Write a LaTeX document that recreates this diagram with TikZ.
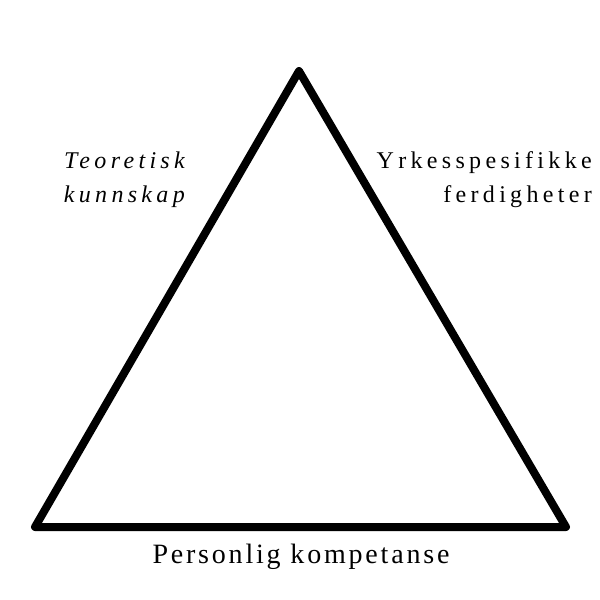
\documentclass[tikz,border=0pt]{standalone}
\usepackage{fontspec}
\setmainfont{Liberation Serif}
\newfontfamily\sidelabelfont{Liberation Serif}[LetterSpace=18]
\newfontfamily\baselabelfont{Liberation Serif}[LetterSpace=10]
\usetikzlibrary{positioning}

\begin{document}
\begin{tikzpicture}[x=1pt, y=-1pt,
        side/.style = {line width=8pt, line join=round, line cap=round},
        sidelbl/.style = {inner sep=0pt, align=right, anchor=base east, font=\sidelabelfont\fontsize{24}{33.5}\selectfont},
        baselbl/.style = {inner sep=0pt, anchor=base, font=\baselabelfont\fontsize{28}{34}\selectfont}]
    \useasboundingbox (0,0) rectangle (600,600);
    \coordinate (top) at (299,71);
    \coordinate (bl) at (35,527);
    \coordinate (br) at (566,527);

    \draw[side] (top) -- (bl) -- (br) -- cycle;

    \node (teori) [sidelbl] at (185,202) {\itshape Teoretisk\\\itshape kunnskap};
    \node (yrke) [sidelbl] at (592,202) {Yrkesspesifikke\\ferdigheter};
    \node (pers) [baselbl] at (301,563) {Personlig kompetanse};
\end{tikzpicture}
\end{document}
